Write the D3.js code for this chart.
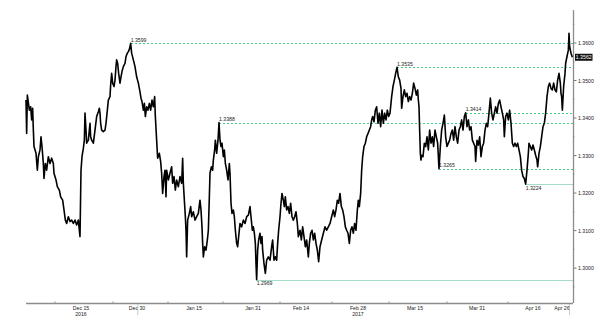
<!DOCTYPE html>
<html>
<head>
<meta charset="utf-8">
<script src="https://cdn.jsdelivr.net/npm/d3@7"></script>
<style>
  body { margin: 0; background: #fff; }
  svg { display: block; font-family: "Liberation Sans", Arial, sans-serif; }
</style>
</head>
<body>
<svg id="chart"></svg>
<script>
// trading-session index (x) and GBP rate (y)
var session = [0.2,0.33,0.47,0.87,1.13,1.33,1.53,1.67,1.8,2.2,2.47,2.67,3.0,3.2,3.4,3.67,3.8,4.07,4.33,4.67,5.0,5.33,5.67,5.8,6.2,6.47,6.87,7.13,7.53,7.8,8.07,8.33,8.67,9.0,9.33,9.67,10.0,10.33,10.67,11.0,
  11.2,11.4,11.67,11.87,12.0,12.2,12.33,12.67,13.0,13.13,13.33,13.67,14.0,14.33,14.67,14.87,15.0,15.13,15.33,15.67,16.0,16.2,16.47,16.67,17.0,17.13,17.33,17.53,17.8,18.0,18.2,18.33,18.53,18.73,19.0,19.2,19.4,19.67,20.0,20.2,20.47,20.67,20.87,21.13,
  21.33,21.67,22.0,22.33,22.67,23.0,23.2,23.4,23.67,23.87,24.07,24.33,24.6,24.87,25.13,25.4,25.67,25.93,26.07,26.33,26.53,26.87,27.13,27.33,27.53,27.8,28.0,28.2,28.33,28.67,29.0,29.33,29.53,29.8,30.07,30.33,30.67,31.0,31.33,31.53,31.67,31.87,
  32.07,32.2,32.33,32.53,32.87,33.13,33.33,33.67,34.0,34.33,34.67,35.0,35.2,35.4,35.53,35.67,35.93,36.2,36.47,36.67,36.87,37.0,37.27,37.53,37.67,37.93,38.07,38.33,38.6,38.8,39.0,39.2,39.4,39.67,39.87,40.07,40.33,40.6,40.87,41.0,41.2,41.4,
  41.67,41.87,42.07,42.33,42.53,42.73,43.0,43.33,43.67,44.0,44.33,44.67,45.0,45.2,45.47,45.67,45.87,46.07,46.2,46.33,46.53,46.73,47.0,47.2,47.4,47.53,47.8,48.07,48.33,48.67,49.0,49.33,49.53,49.8,50.07,50.33,50.53,50.73,51.0,51.2,51.4,
  51.67,51.87,52.07,52.33,52.6,52.87,53.13,53.4,53.67,53.93,54.2,54.47,54.67,55.0,55.27,55.53,55.8,56.07,56.33,56.67,56.87,57.13,57.4,57.67,57.93,58.2,58.47,58.73,59.0,59.33,59.67,60.0,60.33,60.67,61.0,61.33,61.67,61.93,62.2,62.47,62.73,
  63.0,63.27,63.53,63.8,64.07,64.33,64.6,64.87,65.13,65.4,65.67,65.93,66.2,66.47,66.67,66.87,67.13,67.33,67.53,67.8,68.07,68.33,68.6,68.87,69.13,69.33,69.53,69.8,70.07,70.33,70.6,70.87,71.13,71.4,71.67,71.93,72.2,72.47,72.73,73.0,
  73.33,73.6,73.87,74.13,74.4,74.67,74.93,75.2,75.33,75.6,75.87,76.13,76.4,76.67,76.93,77.2,77.47,77.73,78.0,78.27,78.53,78.67,78.8,78.93,79.07,79.2,79.33,79.6,79.87,80.13,80.4,80.67,80.93,81.2,81.47,81.73,82.0,82.27,82.53,82.8,
  83.07,83.33,83.6,83.87,84.13,84.4,84.67,84.93,85.2,85.47,85.73,86.0,86.27,86.53,86.8,87.07,87.33,87.6,87.87,88.13,88.4,88.67,88.93,89.2,89.47,89.73,90.0,90.13,90.4,90.67,90.93,91.2,91.47,91.73,92.0,92.27,92.53,92.8,93.07,93.33,
  93.6,93.87,94.13,94.4,94.67,94.93,95.2,95.47,95.73,95.87,96.13,96.4,96.67,96.93,97.2,97.47,97.73,98.0,98.27,98.53,98.8,99.07,99.33,99.6,99.87,100.13,100.4,100.67,100.8,101.07,101.33,101.6,101.87,102.13,102.4,102.53,102.8,103.07,
  103.33,103.6,103.87,104.13,104.4,104.67,104.93,105.2,105.47,105.73,106.0,106.27,106.53,106.8,107.07,107.2,107.33,107.47,107.73,108.0,108.13,108.4,108.67,108.8,108.93,109.2,109.47];

var rate = [1.3448,1.3359,1.3461,1.3421,1.3430,1.3395,1.3426,1.3368,1.3324,1.3306,1.3261,1.3297,1.3315,1.3350,1.3324,1.3279,1.3239,1.3279,1.3261,1.3297,1.3279,1.3293,1.3279,1.3253,1.3235,1.3217,1.3208,1.3190,1.3181,1.3155,1.3128,1.3119,1.3137,1.3124,1.3128,1.3119,1.3128,1.3115,1.3128,1.3084,
  1.3261,1.3297,1.3319,1.3341,1.3413,1.3368,1.3333,1.3341,1.3386,1.3350,1.3341,1.3333,1.3368,1.3404,1.3417,1.3426,1.3413,1.3386,1.3368,1.3364,1.3368,1.3386,1.3421,1.3448,1.3457,1.3488,1.3519,1.3493,1.3484,1.3501,1.3537,1.3555,1.3546,1.3519,1.3493,1.3510,1.3524,1.3537,1.3546,1.3564,1.3573,1.3577,1.3583,1.3599,
  1.3573,1.3555,1.3537,1.3510,1.3493,1.3470,1.3453,1.3444,1.3421,1.3439,1.3404,1.3430,1.3421,1.3439,1.3421,1.3448,1.3430,1.3457,1.3404,1.3341,1.3293,1.3306,1.3284,1.3253,1.3199,1.3244,1.3261,1.3190,1.3261,1.3235,1.3253,1.3270,1.3226,1.3244,1.3208,1.3235,1.3217,1.3244,1.3226,1.3293,1.3226,1.3181,
  1.3137,1.3101,1.3030,1.3128,1.3146,1.3164,1.3137,1.3150,1.3128,1.3137,1.3146,1.3181,1.3155,1.3110,1.3066,1.3030,1.3057,1.3048,1.3075,1.3101,1.3190,1.3253,1.3270,1.3261,1.3288,1.3315,1.3341,1.3306,1.3341,1.3388,1.3341,1.3324,1.3333,1.3297,1.3315,1.3279,1.3261,1.3235,1.3279,1.3253,1.3173,1.3146,
  1.3155,1.3137,1.3101,1.3066,1.3057,1.3084,1.3119,1.3110,1.3128,1.3119,1.3137,1.3141,1.3164,1.3137,1.3101,1.3110,1.3093,1.3066,1.3012,1.2969,1.3048,1.3075,1.3093,1.3066,1.3084,1.3048,1.3012,1.2986,1.3021,1.3030,1.3021,1.3057,1.3075,1.3021,1.3030,1.3021,1.3066,1.3101,1.3137,1.3173,1.3199,
  1.3181,1.3164,1.3190,1.3155,1.3164,1.3146,1.3173,1.3137,1.3128,1.3137,1.3150,1.3119,1.3084,1.3101,1.3075,1.3110,1.3084,1.3057,1.3075,1.3030,1.3066,1.3093,1.3101,1.3075,1.3093,1.3066,1.3048,1.3017,1.3057,1.3075,1.3093,1.3110,1.3101,1.3110,1.3119,1.3137,1.3155,1.3137,1.3155,1.3181,1.3173,
  1.3199,1.3164,1.3155,1.3137,1.3110,1.3101,1.3093,1.3066,1.3101,1.3110,1.3093,1.3119,1.3101,1.3155,1.3181,1.3164,1.3199,1.3261,1.3297,1.3324,1.3333,1.3350,1.3359,1.3368,1.3377,1.3395,1.3404,1.3390,1.3421,1.3430,1.3386,1.3413,1.3377,1.3421,1.3386,1.3413,1.3395,1.3421,1.3404,1.3413,
  1.3457,1.3484,1.3501,1.3519,1.3535,1.3510,1.3501,1.3479,1.3426,1.3457,1.3475,1.3457,1.3466,1.3444,1.3457,1.3448,1.3466,1.3493,1.3479,1.3461,1.3475,1.3448,1.3430,1.3368,1.3306,1.3288,1.3301,1.3297,1.3333,1.3324,1.3350,1.3315,1.3368,1.3333,1.3350,1.3324,1.3368,1.3350,1.3333,1.3265,
  1.3324,1.3368,1.3386,1.3408,1.3350,1.3324,1.3333,1.3341,1.3359,1.3368,1.3341,1.3377,1.3350,1.3333,1.3368,1.3377,1.3395,1.3368,1.3404,1.3414,1.3377,1.3395,1.3368,1.3377,1.3341,1.3333,1.3324,1.3284,1.3341,1.3328,1.3350,1.3297,1.3324,1.3333,1.3368,1.3386,1.3377,1.3413,1.3453,1.3413,
  1.3395,1.3413,1.3430,1.3413,1.3439,1.3448,1.3430,1.3413,1.3395,1.3350,1.3404,1.3413,1.3395,1.3421,1.3386,1.3333,1.3324,1.3333,1.3324,1.3333,1.3315,1.3297,1.3261,1.3244,1.3239,1.3224,1.3261,1.3306,1.3333,1.3324,1.3315,1.3328,1.3315,1.3301,1.3288,1.3270,1.3306,1.3324,
  1.3350,1.3377,1.3386,1.3413,1.3457,1.3484,1.3493,1.3479,1.3475,1.3493,1.3475,1.3470,1.3501,1.3519,1.3493,1.3466,1.3457,1.3421,1.3484,1.3519,1.3546,1.3564,1.3581,1.3626,1.3590,1.3573,1.3562];

// highs / lows marked with a level line
var levelValues = [1.3599, 1.3535, 1.3388, 1.3414, 1.3265, 1.3224, 1.2969];
var levelSessions = [21.13, 74.4, 38.8, 88.13, 82.8, 100.13, 46.33];

var yTicks = [1.30, 1.31, 1.32, 1.33, 1.34, 1.35, 1.36];
var xTickLabels = ["Dec 15", "Dec 30", "Jan 15", "Jan 31", "Feb 14", "Feb 28", "Mar 15", "Mar 31", "Apr 16", "Apr 26"];
var xTickSessions = [11.2, 22.4, 33.8, 45.6, 55.2, 66.6, 78, 90.4, 101.6, 107.4];
var yearLabels = ["2016", "", "", "", "", "2017", "", "", "", ""];
var xMinorSessions = [6, 17.6, 28.6, 39.6, 51, 61.4, 72.8, 84.4, 96.6];

var width = 600, height = 322;
var margin = { top: 10, bottom: 303, left: 25, right: 573 };
var fontSize = 5.2;

var svg = d3.select("#chart").attr("width", width).attr("height", height);

var x = d3.scaleLinear().domain([0, 109.6]).range([margin.left, margin.right]);
var y = d3.scaleLinear().domain([1.2907, 1.3688]).range([margin.bottom, margin.top]);

var fmt = d3.format(".4f");

// level lines: highs and the 1.3265 low dashed, deeper lows solid
var levels = levelValues.map((v, i) => ({ v: v, s: levelSessions[i], solid: v < 1.325 }));

svg.append("g").selectAll("line").data(levels).enter().append("line")
  .attr("x1", d => Math.round(x(d.s)))
  .attr("x2", margin.right)
  .attr("y1", d => Math.round(y(d.v)) + 0.5)
  .attr("y2", d => Math.round(y(d.v)) + 0.5)
  .attr("stroke", d => d.solid ? "#a3dcc9" : "#46cc88")
  .attr("stroke-width", 1)
  .attr("shape-rendering", "crispEdges")
  .attr("stroke-dasharray", d => d.solid ? null : "2,2");

// price line
var points = session.map((s, i) => [s, rate[i]]);
var line = d3.line().x(d => x(d[0])).y(d => y(d[1]));

svg.append("path")
  .datum(points)
  .attr("d", line)
  .attr("fill", "none")
  .attr("stroke", "#000")
  .attr("stroke-width", 1.6)
  .attr("stroke-linejoin", "round");

// level labels
svg.append("g").selectAll("text").data(levels).enter().append("text")
  .attr("x", d => x(d.s))
  .attr("y", d => d.solid ? y(d.v) + 5.5 : y(d.v) - 1.5)
  .attr("font-size", fontSize)
  .attr("fill", "#222")
  .text(d => fmt(d.v));

// right axis
var yAxis = svg.append("g");
yAxis.append("line")
  .attr("x1", margin.right + 0.5).attr("x2", margin.right + 0.5)
  .attr("y1", margin.top).attr("y2", margin.bottom)
  .attr("stroke", "#8c8c8c").attr("stroke-width", 1.3);

yAxis.selectAll(".tick").data(yTicks).enter().append("line")
  .attr("x1", margin.right + 1).attr("x2", margin.right + 3.5)
  .attr("y1", d => y(d)).attr("y2", d => y(d))
  .attr("stroke", "#555").attr("stroke-width", 0.8);

yAxis.selectAll(".minor").data(d3.range(1.295, 1.366, 0.01)).enter().append("line")
  .attr("x1", margin.right).attr("x2", margin.right + 1.5)
  .attr("y1", d => y(d)).attr("y2", d => y(d))
  .attr("stroke", "#777").attr("stroke-width", 0.6);

yAxis.selectAll("text").data(yTicks).enter().append("text")
  .attr("x", margin.right + 5)
  .attr("y", d => y(d) + 2)
  .attr("font-size", fontSize)
  .attr("fill", "#222")
  .text(d => fmt(d));

// last price tag
var last = rate[rate.length - 1];
yAxis.append("rect")
  .attr("x", margin.right + 2).attr("y", y(last) - 3.5)
  .attr("width", 17.5).attr("height", 7)
  .attr("fill", "#111");
yAxis.append("text")
  .attr("x", margin.right + 2.8).attr("y", y(last) + 2)
  .attr("font-size", fontSize)
  .attr("fill", "#fff")
  .text(fmt(last));

// bottom axis
var xAxis = svg.append("g");
xAxis.append("line")
  .attr("x1", margin.left + 1).attr("x2", margin.right)
  .attr("y1", margin.bottom + 0.5).attr("y2", margin.bottom + 0.5)
  .attr("stroke", "#8c8c8c").attr("stroke-width", 1.3);

xAxis.selectAll(".minor").data(xMinorSessions).enter().append("line")
  .attr("x1", d => x(d)).attr("x2", d => x(d))
  .attr("y1", margin.bottom - 1.5).attr("y2", margin.bottom)
  .attr("stroke", "#666").attr("stroke-width", 0.7);

xAxis.selectAll(".lab").data(xTickLabels).enter().append("text")
  .attr("x", (d, i) => x(xTickSessions[i]))
  .attr("y", margin.bottom + 6.5)
  .attr("text-anchor", "middle")
  .attr("font-size", fontSize)
  .attr("fill", "#222")
  .text(d => d);

xAxis.selectAll(".year").data(yearLabels).enter().append("text")
  .attr("x", (d, i) => x(xTickSessions[i]))
  .attr("y", margin.bottom + 12.5)
  .attr("text-anchor", "middle")
  .attr("font-size", fontSize)
  .attr("fill", "#222")
  .text(d => d);

// year break and last-session markers below the axis
xAxis.selectAll(".mark").data([22.55, 108.9]).enter().append("line")
  .attr("x1", d => x(d)).attr("x2", d => x(d))
  .attr("y1", margin.bottom + 1).attr("y2", margin.bottom + 12)
  .attr("stroke", "#bbb").attr("stroke-width", 0.8);
</script>
</body>
</html>
